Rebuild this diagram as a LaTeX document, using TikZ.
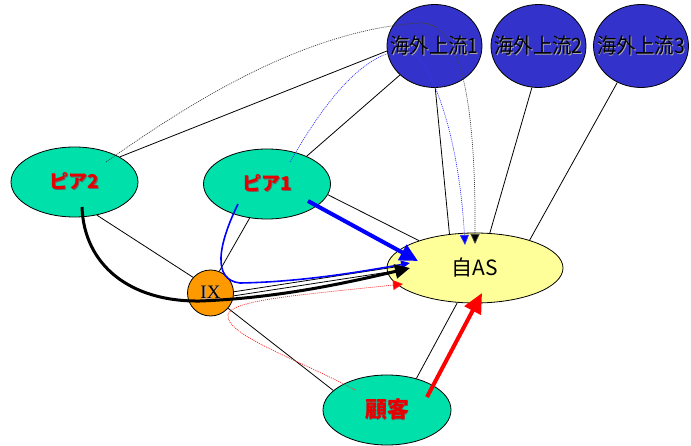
\documentclass[tikz,border=0pt]{standalone}
\usepackage{fontspec}
\newfontfamily\jp{Noto Sans CJK JP}
\newfontfamily\jpnarrow[FakeStretch=0.92]{Noto Sans CJK JP}
\newfontfamily\ixfont{Liberation Serif}
\usetikzlibrary{shapes.geometric,arrows.meta}

\definecolor{peergreen}{RGB}{0,224,170}
\definecolor{upblue}{RGB}{51,51,204}
\definecolor{asyellow}{RGB}{255,255,153}
\definecolor{ixorange}{RGB}{255,153,0}
\definecolor{lblred}{RGB}{230,0,0}

% text with a small drop shadow; zero width so it never resizes the shape
\newcommand\shtext[2]{\makebox[0pt]{\rlap{\kern0.9pt\raisebox{-0.9pt}{\textcolor{#1}{#2}}}#2}}

\tikzset{
  box/.style={ellipse, draw=black, line width=0.8pt, inner sep=0pt},
  upstream/.style={box, fill=upblue, minimum width=95pt, minimum height=83pt,
    font=\jpnarrow\fontsize{21}{21}\selectfont, text=black},
  peer/.style={box, fill=peergreen, minimum width=127pt, minimum height=70pt,
    font=\jp\bfseries\fontsize{19}{19}\selectfont, text=lblred},
  ownas/.style={box, fill=asyellow, minimum width=176pt, minimum height=70pt,
    font=\jp\fontsize{21}{21}\selectfont, text=black},
  ixbox/.style={circle, draw=black, line width=0.8pt, fill=ixorange,
    minimum size=46pt, inner sep=0pt, font=\ixfont\fontsize{19}{19}\selectfont},
  link/.style={draw=black, line width=0.8pt},
  bigarrow/.style={line width=4pt, -{Triangle[length=18pt,width=17pt]}},
  thinroute/.style={draw=blue, line width=1.6pt, -{Triangle[length=9pt,width=8pt]}},
  mainroute/.style={draw=black, line width=3pt, -{Triangle[length=15pt,width=14pt]}},
  dotroute/.style={line width=0.7pt, dash pattern=on 1pt off 1pt,
    -{Triangle[length=10pt,width=9pt]}},
}

\begin{document}
\begin{tikzpicture}[x=1pt,y=-1pt]
\useasboundingbox (0,0) rectangle (691,446);
\fill[white] (0,0) rectangle (691,446);

% nodes
\node[upstream] (u1) at (434.5,46) {\shtext{black!35}{海外上流1}};
\node[upstream] (u2) at (538.5,46) {\shtext{black!35}{海外上流2}};
\node[upstream] (u3) at (641,46)   {\shtext{black!35}{海外上流3}};
\node[peer] (p2) at (74.5,182) {\shtext{black!60}{ピア2}};
\node[peer] (p1) at (267,184)  {\shtext{black!60}{ピア1}};
\node[ixbox] (ix) at (210.5,293) {\shtext{black!30}{IX}};
\node[ownas] (as) at (475,268) {\makebox[0pt]{自AS}};
\node[peer, minimum width=128pt, font=\jp\bfseries\fontsize{22}{22}\selectfont]
  (cu) at (387,410) {\shtext{black!60}{顧客}};

% plain links
\draw[link] (p2.29) -- (u1.186);
\draw[link] (p1.35) -- (u1.220);
\draw[link] (u1.271) -- (as.127);
\draw[link] (u2.261) -- (as.67);
\draw[link] (u3.237) -- (as.27);
\draw[link] (p1.350) -- (as.154);
\draw[link] (p2.304) -- (ix.138);
\draw[link] (p1.243) -- (ix.68);
\draw[link] (ix.319) -- (cu.160);
\draw[link] (as.243) -- (cu.47);
\draw[link] (ix.3) -- ([shift={(-80,-1)}]as.center);
\draw[link] (ix.353) -- ([shift={(-80,3)}]as.center);

% routes received through the upstream
\draw[dotroute, draw=black!75, -{Triangle[length=10pt,width=9pt,fill=black]}]
  ([shift={(31.5,-20)}]p2.center) .. controls (180,110) and (300,30) ..
  ([shift={(-14.5,-23)}]u1.center) .. controls (455,22) and (476,80) ..
  ([shift={(0,-24)}]as.center);
\draw[dotroute, draw=blue!80, -{Triangle[length=10pt,width=9pt,fill=blue]}]
  ([shift={(23,-22)}]p1.center) .. controls (320,110) and (360,52) ..
  ([shift={(-29.5,4)}]u1.center) .. controls (425,50) and (458,120) ..
  ([shift={(-10,-23)}]as.center);

% routes through the exchange
\draw[thinroute]
  ([shift={(-29,20)}]p1.center) .. controls (218,245) and (212,280) ..
  (240,283) .. controls (300,282) and (360,272) ..
  ([shift={(-65,-5)}]as.center);
\draw[mainroute]
  ([shift={(7.5,25)}]p2.center) .. controls (84,265) and (130,302) ..
  (200,301) .. controls (280,298) and (350,282) ..
  ([shift={(-65,0)}]as.center);
\draw[dotroute, draw=red!85, -{Triangle[length=10pt,width=10pt,fill=red]}]
  ([shift={(-32,-20)}]cu.center) .. controls (300,360) and (225,335) ..
  (228,315) .. controls (230,300) and (300,295) ..
  ([shift={(-72,16)}]as.center);

% direct routes
\draw[bigarrow, draw=blue] ([shift={(41,17)}]p1.center) -- ([shift={(-57,-7)}]as.center);
\draw[bigarrow, draw=red, -{Triangle[length=20pt,width=18pt]}]
  ([shift={(40,-13)}]cu.center) -- ([shift={(7,25)}]as.center);
\end{tikzpicture}
\end{document}
